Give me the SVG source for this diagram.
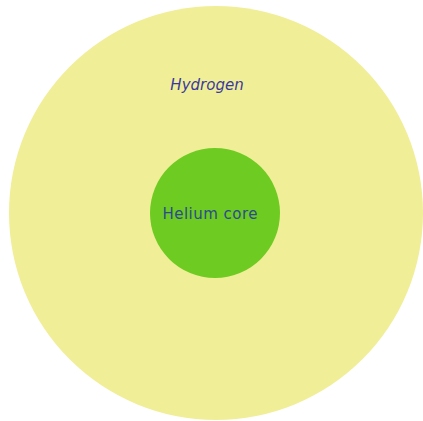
<svg xmlns="http://www.w3.org/2000/svg" width="423" height="421" viewBox="0 0 423 421">
<style>
.lbl{font-family:"DejaVu Sans","Liberation Sans",sans-serif;font-size:15px;text-anchor:middle}
</style>
<rect width="423" height="421" fill="#ffffff"/>
<g id="hydrogen">
<circle cx="216" cy="213" r="207" fill="#f1ee98"/>
<text class="lbl" x="207" y="90" fill="#3b3a9c" font-style="italic">Hydrogen</text>
</g>
<g id="helium-core">
<circle cx="215" cy="213" r="65" fill="#6ecb22"/>
<text class="lbl" x="210" y="219" fill="#2b4b8c" textLength="95">Helium core</text>
</g>
<g id="connectors"/>
</svg>
